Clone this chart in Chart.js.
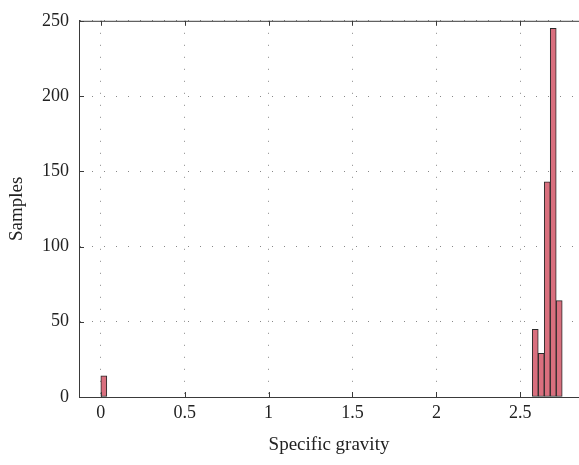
<!DOCTYPE html>
<html lang="en">
<head>
    <meta charset="UTF-8">
    <title>Specific gravity histogram</title>
    <script src="https://cdn.jsdelivr.net/npm/chart.js"></script>
    <style>
        body {
            margin: 0;
            padding: 0;
            background: #fff;
        }
        .wrap {
            width: 579px;
            height: 465px;
        }
    </style>
</head>
<body>
    <div class="wrap">
        <canvas id="myChart" width="579" height="465"></canvas>
    </div>

    <script>
        // histogram bins (centres) and sample counts
        const binCenters = [0.0179, 2.5893, 2.625, 2.6607, 2.6964, 2.7321];
        const samples = [14, 45, 29, 143, 245, 64];
        const xTicks = [0, 0.5, 1, 1.5, 2, 2.5];
        const yTicks = [0, 50, 100, 150, 200, 250];

        const fontFamily = "'Liberation Serif', 'DejaVu Serif', serif";
        const axisColor = '#3a3a3a';

        // top frame line and inward tick marks
        const frame = {
            id: 'frame',
            afterDraw(chart) {
                const ctx = chart.ctx;
                const a = chart.chartArea;
                const xs = chart.scales.x;
                const ys = chart.scales.y;
                ctx.save();
                ctx.strokeStyle = axisColor;
                ctx.lineWidth = 1;
                ctx.beginPath();
                ctx.moveTo(a.left, a.top + 0.5);
                ctx.lineTo(a.right, a.top + 0.5);
                xTicks.forEach(t => {
                    const px = Math.round(xs.getPixelForValue(t)) + 0.5;
                    ctx.moveTo(px, a.bottom);
                    ctx.lineTo(px, a.bottom - 5);
                    ctx.moveTo(px, a.top);
                    ctx.lineTo(px, a.top + 5);
                });
                yTicks.forEach(t => {
                    const py = Math.round(ys.getPixelForValue(t)) + 0.5;
                    ctx.moveTo(a.left, py);
                    ctx.lineTo(a.left + 5, py);
                });
                ctx.stroke();
                ctx.restore();
            }
        };

        const ctx = document.getElementById('myChart').getContext('2d');
        new Chart(ctx, {
            type: 'bar',
            data: {
                datasets: [{
                    label: 'Samples',
                    data: binCenters.map((x, i) => ({ x: x, y: samples[i] })),
                    backgroundColor: '#d96f7e',
                    borderColor: '#2a2a2a',
                    borderWidth: 1,
                    borderSkipped: false,
                    barPercentage: 1,
                    categoryPercentage: 1
                }]
            },
            options: {
                responsive: false,
                animation: false,
                layout: { padding: 0 },
                scales: {
                    x: {
                        type: 'linear',
                        min: -0.13,
                        max: 2.85,
                        offset: false,
                        afterBuildTicks: s => { s.ticks = xTicks.map(v => ({ value: v })); },
                        afterFit: s => { s.height = 68; },
                        grid: {
                            offset: false,
                            color: '#888',
                            lineWidth: 1,
                            drawTicks: false
                        },
                        border: { color: axisColor, width: 1, dash: [1, 11] },
                        ticks: {
                            padding: 5,
                            color: '#222',
                            autoSkip: false,
                            maxRotation: 0,
                            callback: v => String(v),
                            font: { family: fontFamily, size: 18 }
                        },
                        title: {
                            display: true,
                            text: 'Specific gravity',
                            color: '#222',
                            font: { family: fontFamily, size: 19 },
                            padding: { top: 0, bottom: 9 }
                        }
                    },
                    y: {
                        min: 0,
                        max: 250,
                        afterBuildTicks: s => { s.ticks = yTicks.map(v => ({ value: v })); },
                        afterFit: s => { s.width = 79; },
                        grid: {
                            color: '#888',
                            lineWidth: 1,
                            drawTicks: false
                        },
                        border: { color: axisColor, width: 1, dash: [1, 11] },
                        ticks: {
                            padding: 10,
                            color: '#222',
                            callback: v => String(v),
                            font: { family: fontFamily, size: 18 }
                        },
                        title: {
                            display: true,
                            text: 'Samples',
                            color: '#222',
                            font: { family: fontFamily, size: 19 },
                            padding: { top: 6, bottom: 0 }
                        }
                    }
                },
                plugins: {
                    legend: { display: false },
                    tooltip: { enabled: false }
                }
            },
            plugins: [frame]
        });
    </script>
</body>
</html>
